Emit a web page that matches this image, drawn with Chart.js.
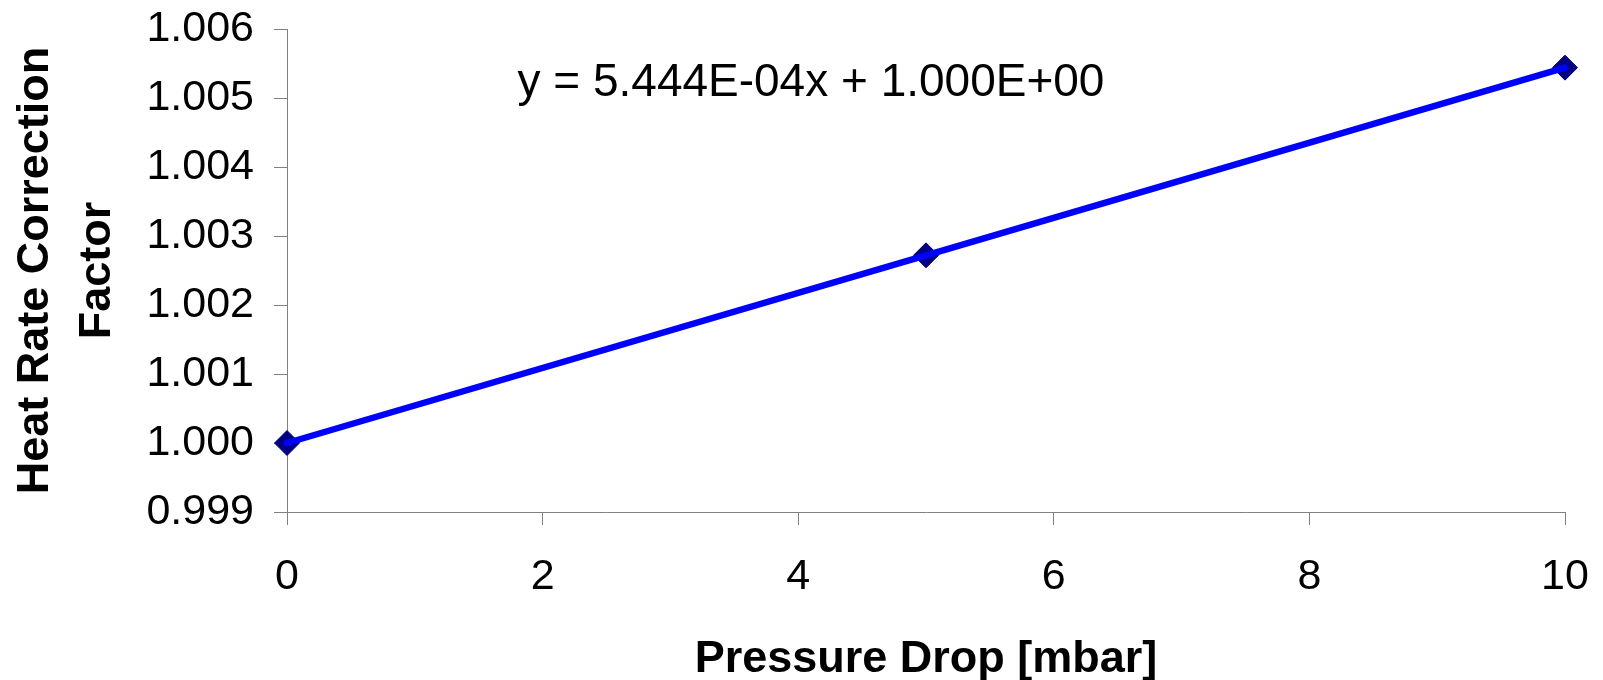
<!DOCTYPE html>
<html>
<head>
<meta charset="utf-8">
<script src="https://cdn.jsdelivr.net/npm/chart.js@4.4.1/dist/chart.umd.min.js"></script>
<style>
  html, body { margin: 0; padding: 0; background: #fff; }
  #wrap { width: 1603px; height: 680px; }
</style>
</head>
<body>
<div id="wrap"><canvas id="chart"></canvas></div>
<script>
// values
const pressureDrop = [0, 5, 10];
const correctionFactor = [1.0000, 1.00272, 1.00544];
const yTicks = [0.999, 1.000, 1.001, 1.002, 1.003, 1.004, 1.005, 1.006];
const xTicks = [0, 2, 4, 6, 8, 10];
const trendText = 'y = 5.444E-04x + 1.000E+00';
const trendAt = [4.1, 1.00503];   // data coords of the equation label

const FONT = '"Liberation Sans", Arial, sans-serif';
const AXIS_GREY = '#808080';

const points = pressureDrop.map((x, i) => ({ x: x, y: correctionFactor[i] }));

// draws the trendline equation as a text label
const equationLabel = {
    id: 'equationLabel',
    afterDraw(chart) {
        const ctx = chart.ctx;
        const xs = chart.scales.x;
        const ys = chart.scales.y;
        ctx.save();
        ctx.font = '46px ' + FONT;
        ctx.fillStyle = '#000';
        ctx.textAlign = 'center';
        ctx.textBaseline = 'alphabetic';
        ctx.fillText(trendText, xs.getPixelForValue(trendAt[0]), ys.getPixelForValue(trendAt[1]));
        ctx.restore();
    }
};

// let layout.padding alone decide the plot edges
function noLabelPadding(axis) {
    axis.paddingTop = 0;
    axis.paddingBottom = 0;
    axis.paddingLeft = 0;
    axis.paddingRight = 0;
}

const ctx = document.getElementById('chart').getContext('2d');
const chart = new Chart(ctx, {
    type: 'scatter',
    data: {
        datasets: [
            {
                // line drawn on top of the markers
                data: points,
                showLine: true,
                borderColor: '#0000FF',
                borderWidth: 6.5,
                borderCapStyle: 'round',
                pointRadius: 0,
                pointHoverRadius: 0,
                clip: false
            },
            {
                data: points,
                showLine: false,
                pointStyle: 'rectRot',
                pointRadius: 12.5,
                pointBackgroundColor: '#000080',
                pointBorderColor: '#000080',
                pointBorderWidth: 1,
                clip: false
            }
        ]
    },
    options: {
        responsive: true,
        maintainAspectRatio: false,
        animation: false,
        layout: { padding: { top: 29, right: 38, bottom: 0, left: 0 } },
        plugins: {
            legend: { display: false },
            tooltip: { enabled: false }
        },
        scales: {
            x: {
                type: 'linear',
                min: 0,
                max: 10,
                afterBuildTicks: (axis) => { axis.ticks = xTicks.map(v => ({ value: v })); },
                afterFit: (axis) => { axis.height = 168; noLabelPadding(axis); },
                grid: { drawOnChartArea: false, drawTicks: true, tickLength: 13, color: AXIS_GREY },
                border: { color: AXIS_GREY, width: 1 },
                ticks: {
                    color: '#000',
                    font: { family: FONT, size: 43 },
                    padding: 26,
                    maxRotation: 0
                },
                title: {
                    display: true,
                    text: 'Pressure Drop [mbar]',
                    color: '#000',
                    font: { family: FONT, size: 45, weight: 'bold', lineHeight: 0.8 },
                    padding: { top: 0, bottom: 2 }
                }
            },
            y: {
                min: 0.999,
                max: 1.006,
                afterBuildTicks: (axis) => { axis.ticks = yTicks.map(v => ({ value: v })); },
                afterFit: (axis) => { axis.width = 287; noLabelPadding(axis); },
                grid: { drawOnChartArea: false, drawTicks: true, tickLength: 13, color: AXIS_GREY },
                border: { color: AXIS_GREY, width: 1 },
                ticks: {
                    color: '#000',
                    font: { family: FONT, size: 43 },
                    padding: 20,
                    callback: (v) => v.toFixed(3)
                },
                title: {
                    display: true,
                    text: ['Heat Rate Correction', 'Factor'],
                    color: '#000',
                    font: { family: FONT, size: 45, weight: 'bold', lineHeight: 1.37 },
                    padding: { top: 5, bottom: 0 }
                }
            }
        }
    },
    plugins: [equationLabel]
});
</script>
</body>
</html>
